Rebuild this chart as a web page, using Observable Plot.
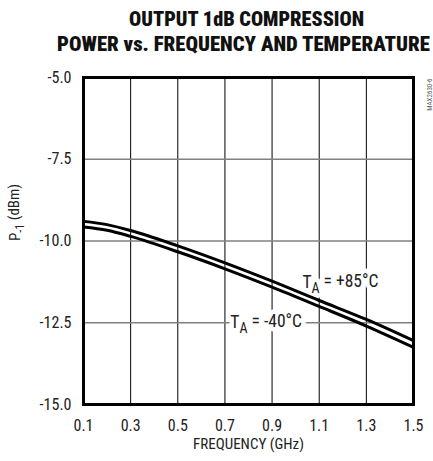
<!DOCTYPE html>
<html><head><meta charset="utf-8">
<script src="https://cdn.jsdelivr.net/npm/d3@7"></script>
<script src="https://cdn.jsdelivr.net/npm/@observablehq/plot@0.6"></script>
<style>
body{margin:0;background:#fff;}
#wrap{position:relative;width:433px;height:461px;overflow:hidden;background:#fff;}
.tl{position:absolute;left:0;width:433px;height:22px;font-family:"Roboto Condensed",Roboto,sans-serif;font-stretch:condensed;font-weight:900;font-size:20px;line-height:22px;color:#111;white-space:nowrap;}
.tl span{display:inline-block;transform-origin:0 50%;line-height:22px;}
#chart{position:absolute;left:0;top:0;}
</style></head>
<body><div id="wrap"><div id="chart"></div></div>
<script>
const titleLines = ["OUTPUT 1dB COMPRESSION", "POWER vs. FREQUENCY AND TEMPERATURE"];
const xTicks = [0.1, 0.3, 0.5, 0.7, 0.9, 1.1, 1.3, 1.5];
const yTicks = [-15, -12.5, -10, -7.5, -5];
const freq = [0.1, 0.2, 0.3, 0.5, 0.7, 0.9, 1.1, 1.3, 1.5];
const p85 = [-9.40, -9.50, -9.68, -10.15, -10.67, -11.23, -11.82, -12.40, -13.05];
const pm40 = [-9.57, -9.67, -9.86, -10.33, -10.85, -11.41, -12.00, -12.60, -13.25];
const seriesNames = ["+85", "-40"];
const labelText = ["T_{A} = +85°C", "T_{A} = -40°C"];
const labelX = [1.19, 0.875];
const labelY = [-11.28, -12.5];
const xLabel = "FREQUENCY (GHz)";
const yLabel = "P_{-1} (dBm)";
const figId = "MAX2630-6";

const data = [];
freq.forEach((f, i) => {
  data.push({f, p: p85[i], s: seriesNames[0]});
  data.push({f, p: pm40[i], s: seriesNames[1]});
});
const labels = labelText.map((t, i) => ({t, x: labelX[i], y: labelY[i]}));

const font = '"Roboto Condensed",Roboto,sans-serif';
const plot = Plot.plot({
  width: 433, height: 461,
  marginLeft: 83, marginRight: 20, marginTop: 77, marginBottom: 57,
  style: {fontFamily: font, fontSize: "16px", color: "#222", background: "transparent"},
  x: {domain: [0.1, 1.5]},
  y: {domain: [-15, -5]},
  marks: [
    Plot.gridX(xTicks, {stroke: "#000", strokeOpacity: 1, strokeWidth: 1}),
    Plot.gridY(yTicks, {stroke: "#808080", strokeOpacity: 1, strokeWidth: 1.6}),
    Plot.axisX(xTicks, {tickSize: 0, tickPadding: 15, tickFormat: d => d.toFixed(1), label: null, fontSize: 16}),
    Plot.axisY(yTicks, {tickSize: 0, tickPadding: 12, tickFormat: d => d.toFixed(1), label: null, fontSize: 16}),
    Plot.text(labels, {x: "x", y: "y", text: "t", fill: "#222", stroke: "white", strokeWidth: 9, fontSize: 17.5}),
    Plot.line(data, {x: "f", y: "p", z: "s", stroke: "#000", strokeWidth: 3, curve: "monotone-x"}),
    Plot.frame({stroke: "#000", strokeWidth: 3}),
    Plot.text([xLabel], {frameAnchor: "bottom", dy: 44, fill: "#222", fontSize: 15}),
    Plot.text([yLabel], {frameAnchor: "left", dx: -68, rotate: -90, fill: "#222", fontSize: 15}),
    Plot.text([figId], {frameAnchor: "top-right", dx: 14, dy: 1, rotate: -90, textAnchor: "end", fill: "#555", fontSize: 7})
  ]
});
// subscripts
d3.select(plot).selectAll("text").each(function() {
  const el = d3.select(this);
  const s = el.text();
  if (!s.includes("_{")) return;
  const m = s.match(/^(.*?)_\{(.*?)\}(.*)$/);
  el.text(null);
  el.append("tspan").text(m[1]);
  el.append("tspan").attr("dy", "0.3em").attr("font-size", "0.8em").text(m[2]);
  el.append("tspan").attr("dy", "-0.3em").text(m[3]);
});
document.getElementById("chart").appendChild(plot);

// title
const targets = [{w: 235, cx: 246, top: 8}, {w: 373, cx: 243.5, top: 33}];
titleLines.forEach((t, i) => {
  const d = document.createElement("div");
  d.className = "tl";
  d.style.top = targets[i].top + "px";
  const sp = document.createElement("span");
  sp.textContent = t;
  d.appendChild(sp);
  document.getElementById("wrap").appendChild(d);
  const w = sp.getBoundingClientRect().width;
  const k = targets[i].w / w;
  sp.style.transform = `scaleX(${k})`;
  sp.style.marginLeft = (targets[i].cx - targets[i].w / 2) + "px";
});
</script></body></html>
